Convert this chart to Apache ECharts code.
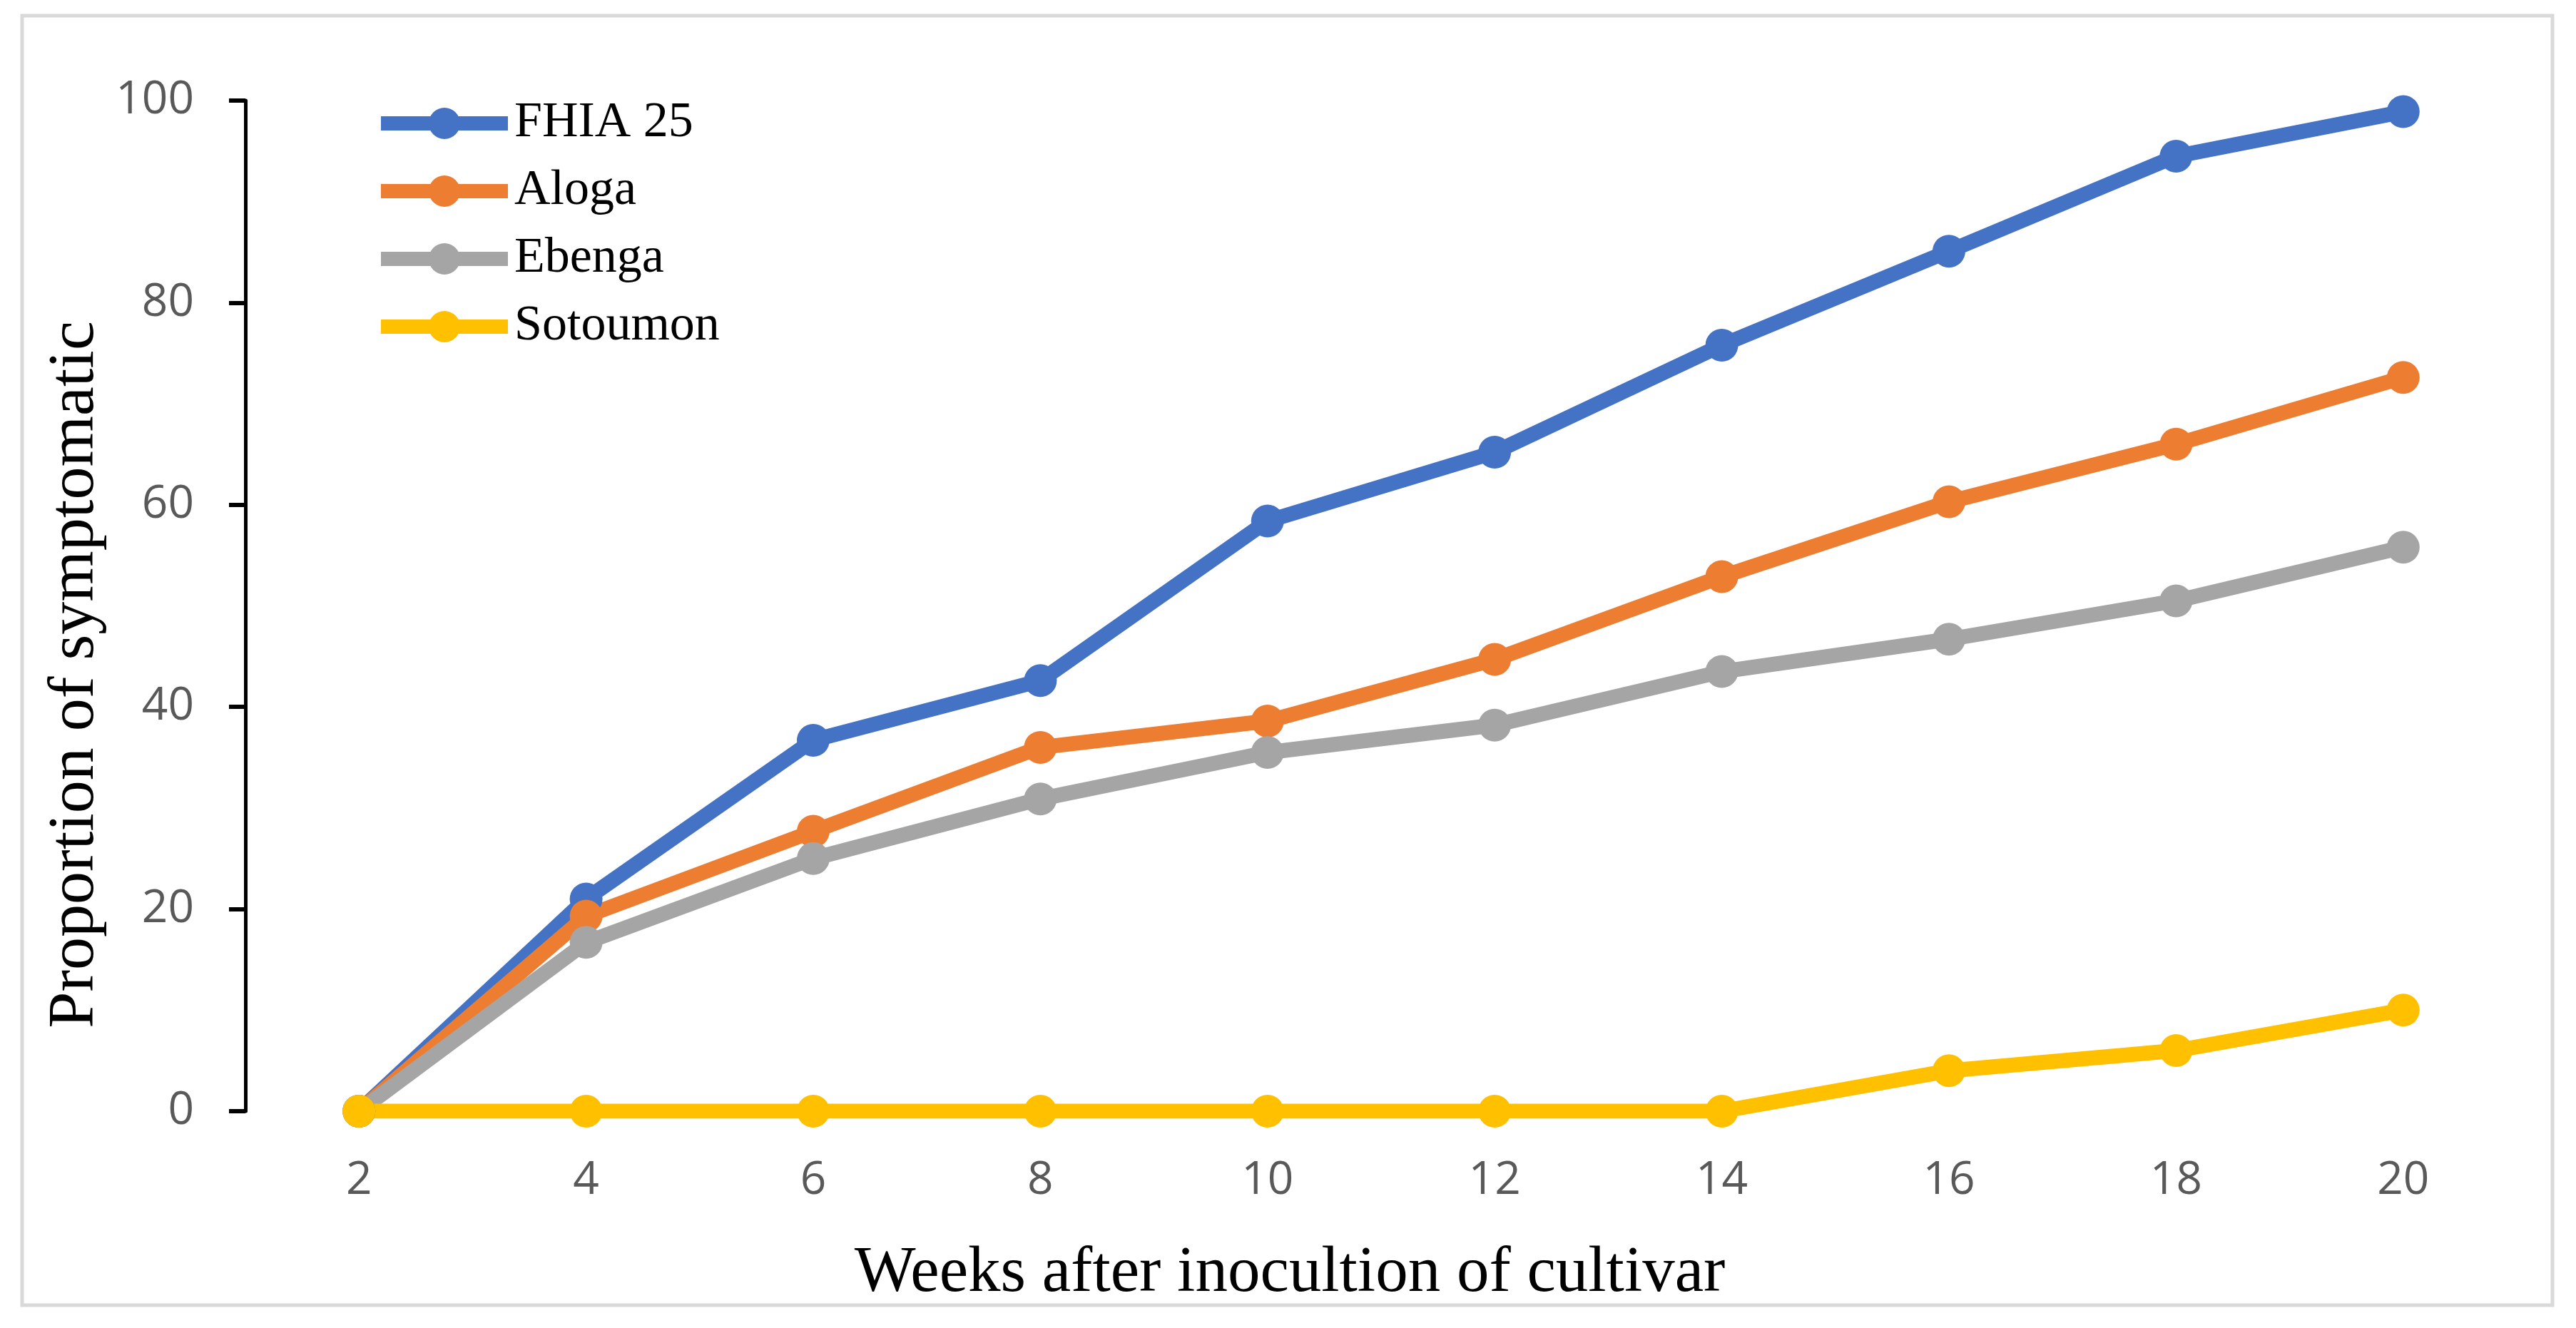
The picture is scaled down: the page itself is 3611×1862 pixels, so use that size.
<!DOCTYPE html>
<html>
<head>
<meta charset="utf-8">
<script src="https://cdn.jsdelivr.net/npm/echarts@6/dist/echarts.min.js"></script>
<style>
html,body{margin:0;padding:0;background:#fff;}
#chart{width:3611px;height:1862px;}
</style>
</head>
<body>
<div id="chart"></div>
<script>
const weeks = ['2','4','6','8','10','12','14','16','18','20'];
const fhia25 = [0, 21.0, 36.7, 42.6, 58.4, 65.2, 75.8, 85.1, 94.5, 98.9];
const aloga = [0, 19.3, 27.7, 36.0, 38.6, 44.7, 52.9, 60.3, 66.0, 72.6];
const ebenga = [0, 16.7, 25.0, 30.9, 35.5, 38.2, 43.5, 46.7, 50.5, 55.8];
const sotoumon = [0, 0, 0, 0, 0, 0, 0, 4.0, 6.0, 10.0];
const seriesNames = ['FHIA 25', 'Aloga', 'Ebenga', 'Sotoumon'];
const seriesColors = ['#4472C4', '#ED7D31', '#A5A5A5', '#FFC000'];
const yTicks = [0, 20, 40, 60, 80, 100];
const xTitle = 'Weeks after inocultion of cultivar';
const yTitle = 'Proportion of symptomatic';

const chart = echarts.init(document.getElementById('chart'), null, {renderer: 'canvas'});
const serif = '"Liberation Serif", "DejaVu Serif", serif';
const sans = '"Open Sans", "Noto Sans", sans-serif';
const allData = [fhia25, aloga, ebenga, sotoumon];

chart.setOption({
  animation: false,
  backgroundColor: '#ffffff',
  grid: {left: 344, right: 83, top: 141, bottom: 304, containLabel: false},
  legend: {
    orient: 'vertical',
    left: 524,
    top: 138,
    padding: 0,
    itemWidth: 178,
    itemHeight: 55,
    itemGap: 25,
    data: seriesNames,
    lineStyle: {width: 20},
    textStyle: {fontFamily: serif, fontSize: 70, color: '#000000', padding: [0,0,0,4]}
  },
  xAxis: {
    type: 'category',
    data: weeks,
    boundaryGap: true,
    axisLine: {show: false},
    axisTick: {show: false},
    axisLabel: {fontFamily: sans, fontSize: 64, color: '#595959', margin: 66}
  },
  yAxis: {
    type: 'value',
    min: yTicks[0],
    max: yTicks[yTicks.length - 1],
    interval: 20,
    splitLine: {show: false},
    axisLine: {show: true, lineStyle: {color: '#000000', width: 5}},
    axisTick: {show: true, length: 23, lineStyle: {color: '#000000', width: 6}},
    axisLabel: {fontFamily: sans, fontSize: 64, color: '#595959', margin: 72}
  },
  graphic: [
    {type: 'rect', shape: {x: 31, y: 22, width: 3547, height: 1808}, style: {fill: null, stroke: '#d9d9d9', lineWidth: 5}, silent: true},
    {type: 'text', x: 1808, y: 1786, style: {text: xTitle, fontFamily: serif, fontSize: 91, fill: '#000000', textAlign: 'center', textVerticalAlign: 'middle'}},
    {type: 'text', x: 106, y: 946, rotation: Math.PI / 2, style: {text: yTitle, fontFamily: serif, fontSize: 92, fill: '#000000', textAlign: 'center', textVerticalAlign: 'middle'}}
  ],
  series: seriesNames.map((name, i) => ({
    name: name,
    type: 'line',
    data: allData[i],
    symbol: 'circle',
    symbolSize: 46,
    showAllSymbol: true,
    color: seriesColors[i],
    lineStyle: {width: 21, color: seriesColors[i]},
    itemStyle: {color: seriesColors[i]}
  }))
});
</script>
</body>
</html>
